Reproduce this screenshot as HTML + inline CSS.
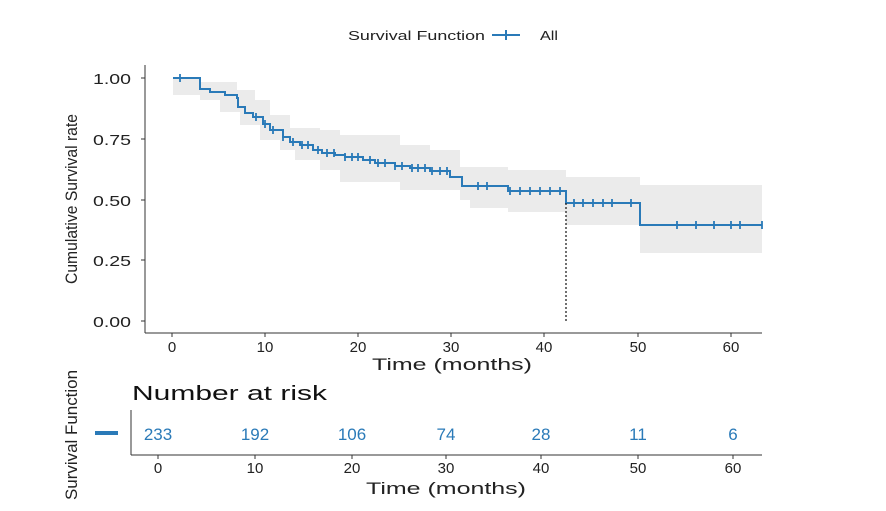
<!DOCTYPE html><html><head><style>body{margin:0;background:#fff}svg{display:block;font-family:"Liberation Sans",sans-serif}</style></head><body>
<svg width="886" height="511" viewBox="0 0 886 511">
<text x="348" y="40" font-size="13" fill="#222" textLength="137" lengthAdjust="spacingAndGlyphs">Survival Function</text>
<line x1="492" y1="35" x2="520" y2="35" stroke="#2a7ab8" stroke-width="2"/><line x1="506" y1="30" x2="506" y2="40" stroke="#2a7ab8" stroke-width="2"/>
<text x="540" y="40" font-size="13" fill="#222" textLength="18" lengthAdjust="spacingAndGlyphs">All</text>
<polygon fill="#ebebeb" points="173,78 200,78 200,82 237,82 237,90 255,90 255,100 270,100 270,115 290,115 290,128 320,128 320,130 340,130 340,135 400,135 400,145 430,145 430,150 460,150 460,167 508,167 508,170 566,170 566,177 640,177 640,185 762,185 762,253 640,253 640,225 566,225 566,212 508,212 508,208 470,208 470,200 460,200 460,190 400,190 400,182 340,182 340,170 320,170 320,160 295,160 295,150 280,150 280,140 260,140 260,125 240,125 240,112 220,112 220,100 200,100 200,95 173,95"/>
<polyline fill="none" stroke="#2a7ab8" stroke-width="2" points="173,78 200,78 200,89 210,89 210,92 225,92 225,95 237,95 237,98 238,98 238,107 245,107 245,113 253,113 253,117 263,117 263,124 270,124 270,130 283,130 283,137 290,137 290,142 300,142 300,145 313,145 313,150 322,150 322,153 335,153 335,155 345,155 345,157 363,157 363,160 375,160 375,163 395,163 395,166 410,166 410,168 430,168 430,171 450,171 450,177 462,177 462,186 508,186 508,191 566,191 566,203 640,203 640,225 762,225"/>
<g stroke="#2a7ab8" stroke-width="1.8">
<path d="M180 74v8M256 113v8M265 120v8M273 126v8M283 133v8M293 138v8M302 141v8M308 141v8M318 146v8M327 149v8M334 149v8M345 153v8M352 153v8M358 153v8M370 156v8M378 159v8M385 159v8M395 162v8M402 162v8M412 164v8M418 164v8M425 164v8M432 167v8M440 167v8M447 167v8M478 182v8M487 182v8M510 187v8M520 187v8M530 187v8M540 187v8M550 187v8M560 187v8M574 199v8M583 199v8M593 199v8M603 199v8M612 199v8M631 199v8M677 221v8M696 221v8M714 221v8M731 221v8M740 221v8M762 221v8"/>
</g>
<line x1="566" y1="203" x2="566" y2="321" stroke="#222" stroke-width="1.3" stroke-dasharray="2,2"/>
<g stroke="#333" stroke-width="1"><line x1="145" y1="65" x2="145" y2="333"/><line x1="145" y1="333" x2="762" y2="333"/>
<path d="M141 78h4M141 139h4M141 200h4M141 260h4M141 321h4M172 333v4M265 333v4M358 333v4M451 333v4M544 333v4M638 333v4M731 333v4"/></g>
<g font-size="15" fill="#222" text-anchor="end"><text x="131" y="84" textLength="38" lengthAdjust="spacingAndGlyphs">1.00</text><text x="131" y="145" textLength="38" lengthAdjust="spacingAndGlyphs">0.75</text><text x="131" y="206" textLength="38" lengthAdjust="spacingAndGlyphs">0.50</text><text x="131" y="266" textLength="38" lengthAdjust="spacingAndGlyphs">0.25</text><text x="131" y="327" textLength="38" lengthAdjust="spacingAndGlyphs">0.00</text></g>
<g font-size="15" fill="#222" text-anchor="middle"><text x="172" y="352">0</text><text x="265" y="352">10</text><text x="358" y="352">20</text><text x="451" y="352">30</text><text x="544" y="352">40</text><text x="638" y="352">50</text><text x="731" y="352">60</text>
<text x="452" y="370" font-size="17" textLength="160" lengthAdjust="spacingAndGlyphs">Time (months)</text>
<text transform="translate(77,199) rotate(-90)" font-size="17" textLength="170" lengthAdjust="spacingAndGlyphs">Cumulative Survival rate</text>
<text transform="translate(77,435) rotate(-90)" font-size="17" textLength="130" lengthAdjust="spacingAndGlyphs">Survival Function</text></g>
<text x="132" y="400" font-size="20" fill="#111" textLength="195" lengthAdjust="spacingAndGlyphs">Number at risk</text>
<line x1="95" y1="433" x2="118" y2="433" stroke="#2a7ab8" stroke-width="4"/>
<g stroke="#333"><line x1="131" y1="410" x2="131" y2="455"/><line x1="131" y1="455" x2="762" y2="455"/><path d="M158 455v4M255 455v4M352 455v4M446 455v4M541 455v4M638 455v4M733 455v4"/></g>
<g font-size="17" fill="#2a7ab8" text-anchor="middle"><text x="158" y="440">233</text><text x="255" y="440">192</text><text x="352" y="440">106</text><text x="446" y="440">74</text><text x="541" y="440">28</text><text x="638" y="440">11</text><text x="733" y="440">6</text></g>
<g font-size="15" fill="#222" text-anchor="middle"><text x="158" y="473">0</text><text x="255" y="473">10</text><text x="352" y="473">20</text><text x="446" y="473">30</text><text x="541" y="473">40</text><text x="638" y="473">50</text><text x="733" y="473">60</text>
<text x="446" y="494" font-size="17" textLength="160" lengthAdjust="spacingAndGlyphs">Time (months)</text></g>
</svg></body></html>
